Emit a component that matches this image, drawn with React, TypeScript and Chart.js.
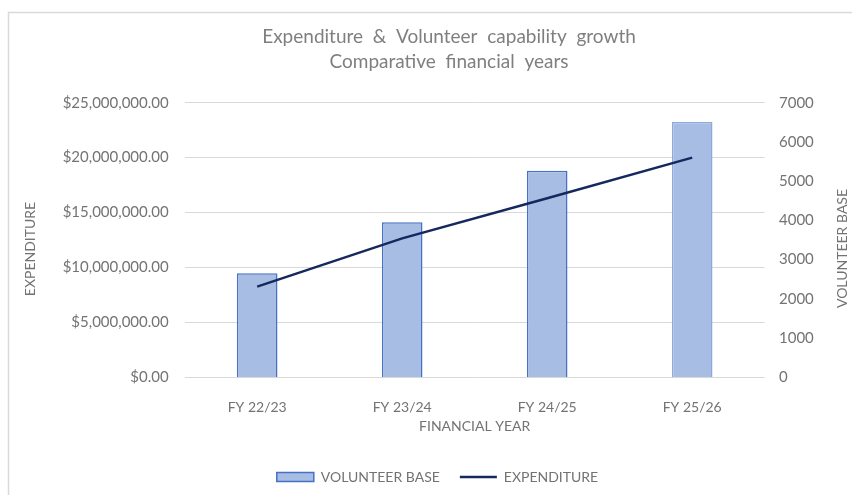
import React, { useEffect, useRef } from 'react';
import { Chart, registerables } from 'chart.js';

Chart.register(...registerables);

// ---- data ----
const categories = ['FY 22/23', 'FY 23/24', 'FY 24/25', 'FY 25/26'];
const volunteerBase = [2650, 3950, 5265, 6505];
const expenditure = [8250000, 12650000, 16300000, 20000000];

const titleLines = ['Expenditure  &  Volunteer  capability  growth', 'Comparative  financial  years'];
const xAxisTitle = 'FINANCIAL YEAR';
const leftAxisTitle = 'EXPENDITURE';
const rightAxisTitle = 'VOLUNTEER BASE';
const barLabel = 'VOLUNTEER BASE';
const lineLabel = 'EXPENDITURE';

// ---- styles ----
const FONT = 'Lato';
const textColor = '#737373';
const titleColor = '#7f7f7f';
const gridColor = '#D9D9D9';
const barFill = '#A8BDE4';
const barBorders = ['#4472C4', '#4472C4', '#4472C4', '#8EA9DB'];
const lineColor = '#15295F';

const money = (v: number) =>
  '$' + Number(v).toLocaleString('en-US', { minimumFractionDigits: 2, maximumFractionDigits: 2 });

const decorPlugin = {
  id: 'decor',
  beforeDraw(chart: any) {
    const { ctx, width, height } = chart;
    ctx.save();
    ctx.fillStyle = '#ffffff';
    ctx.fillRect(0, 0, width, height);
    ctx.strokeStyle = gridColor;
    ctx.lineWidth = 1.5;
    ctx.strokeRect(8.5, 12.5, width + 20, height + 20);
    ctx.restore();
  },
  afterLayout(chart: any) {
    if (chart.titleBlock) chart.titleBlock.left += 46;
    if (chart.legend) chart.legend.left += 23;
  },
  afterDraw(chart: any) {
    const { ctx } = chart;
    const draw = (text: string, x: number, y: number) => {
      ctx.save();
      ctx.translate(x, y);
      ctx.rotate(-Math.PI / 2);
      ctx.textAlign = 'center';
      ctx.textBaseline = 'middle';
      ctx.font = `14px ${FONT}`;
      ctx.fillStyle = textColor;
      ctx.fillText(text, 0, 0);
      ctx.restore();
    };
    draw(leftAxisTitle, 30.5, 249);
    draw(rightAxisTitle, 842, 248.5);
  },
};

export default function App() {
  const ref = useRef<HTMLCanvasElement | null>(null);

  useEffect(() => {
    if (!ref.current) return;
    const chart = new Chart(ref.current, {
      type: 'bar',
      data: {
        labels: categories,
        datasets: [
          {
            type: 'bar',
            label: barLabel,
            data: volunteerBase,
            yAxisID: 'y1',
            backgroundColor: barFill,
            borderColor: barBorders,
            borderWidth: 1.5,
            barPercentage: 0.28,
            categoryPercentage: 1,
            order: 2,
          } as any,
          {
            type: 'line',
            label: lineLabel,
            data: expenditure,
            yAxisID: 'y',
            borderColor: lineColor,
            backgroundColor: lineColor,
            borderWidth: 2.5,
            pointRadius: 0,
            tension: 0,
            order: 1,
          } as any,
        ],
      },
      options: {
        responsive: false,
        animation: false,
        layout: { padding: { top: 0, left: 0, right: 0, bottom: 1 } },
        plugins: {
          title: {
            display: true,
            text: titleLines,
            color: titleColor,
            font: { family: FONT, size: 19, weight: 'normal', lineHeight: '25px' },
            padding: { top: 24.4, bottom: 28.3 },
          },
          legend: {
            position: 'bottom',
            labels: {
              usePointStyle: true,
              pointStyleWidth: 37,
              boxHeight: 9,
              padding: 20,
              color: textColor,
              font: { family: FONT, size: 14 },
              generateLabels: (c: any) =>
                c.data.datasets.map((ds: any, i: number) => ({
                  text: ds.label,
                  fillStyle: ds.type === 'line' ? ds.borderColor : ds.backgroundColor,
                  strokeStyle: ds.type === 'line' ? ds.borderColor : '#4472C4',
                  lineWidth: ds.type === 'line' ? 2.5 : 1.5,
                  pointStyle: ds.type === 'line' ? 'line' : 'rect',
                  fontColor: textColor,
                  hidden: false,
                  datasetIndex: i,
                })),
            },
          },
          tooltip: { enabled: false },
        },
        scales: {
          x: {
            grid: { display: false },
            border: { display: false },
            ticks: { color: textColor, font: { family: FONT, size: 14 }, padding: 14 },
            title: {
              display: true,
              text: xAxisTitle,
              color: textColor,
              font: { family: FONT, size: 14 },
              padding: { top: 0, bottom: 14.9 },
            },
            afterFit: (s: any) => {
              s.height = 72.7;
            },
          },
          y: {
            position: 'left',
            min: 0,
            max: 25000000,
            grid: { color: gridColor, lineWidth: 1, drawTicks: false },
            border: { display: false },
            ticks: {
              stepSize: 5000000,
              color: textColor,
              font: { family: FONT, size: 15 },
              padding: 16,
              callback: (v: any) => money(v),
            },
            afterFit: (s: any) => {
              s.width = 184.7;
            },
          },
          y1: {
            position: 'right',
            min: 0,
            max: 7000,
            grid: { display: false, drawTicks: false },
            border: { display: false },
            ticks: {
              stepSize: 1000,
              color: textColor,
              font: { family: FONT, size: 15 },
              padding: 14.3,
              callback: (v: any) => String(v),
            },
            afterFit: (s: any) => {
              s.width = 87.3;
            },
          },
        },
      } as any,
      plugins: [decorPlugin],
    });
    return () => chart.destroy();
  }, []);

  return (
    <div style={{ position: 'absolute', left: 0, top: 0, width: 852, height: 495 }}>
      <canvas ref={ref} width={852} height={495} style={{ display: 'block' }} />
    </div>
  );
}
